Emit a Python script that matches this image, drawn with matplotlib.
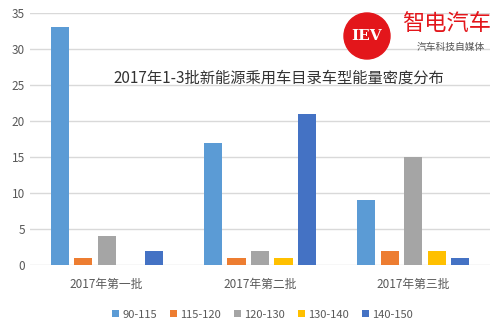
import numpy as np
import matplotlib.pyplot as plt
from matplotlib.patches import Circle

plt.rcParams['font.family'] = ['Noto Sans CJK SC', 'DejaVu Sans']

groups = ['2017年第一批', '2017年第二批', '2017年第三批']
series = ['90-115', '115-120', '120-130', '130-140', '140-150']
values = [
    [33, 17, 9],
    [1, 1, 2],
    [4, 2, 15],
    [0, 1, 2],
    [2, 21, 1],
]
colors = ['#5B9BD5', '#ED7D31', '#A5A5A5', '#FFC000', '#4472C4']

fig = plt.figure(figsize=(5, 3.33), dpi=100)
ax = fig.add_axes([0.06, 0.204, 0.92, 0.757])

x = np.arange(len(groups))
w = 0.118
step = 0.153
for i, s in enumerate(series):
    ax.bar(x + (i - 2) * step, values[i], width=w, color=colors[i], label=s, zorder=3)

ax.set_ylim(0, 35)
ax.set_xlim(-0.5, 2.5)
ax.set_yticks(range(0, 36, 5))
ax.set_xticks(x)
ax.set_xticklabels(groups)
ax.tick_params(axis='both', length=0, colors='#595959', labelsize=8.5)
ax.tick_params(axis='x', pad=9)
ax.grid(axis='y', color='#D9D9D9', linewidth=1, zorder=0)
for sp in ax.spines.values():
    sp.set_visible(False)

ax.text(0.54, 0.74, '2017年1-3批新能源乘用车目录车型能量密度分布', transform=ax.transAxes,
        ha='center', va='center', fontsize=11, color='#333333')

leg = fig.legend(loc='center', bbox_to_anchor=(0.525, 0.055), ncol=5, frameon=False,
                 fontsize=8, handlelength=0.6, handleheight=0.6, handletextpad=0.3,
                 columnspacing=1.2)
for t in leg.get_texts():
    t.set_color('#595959')

# logo
fig.patches.append(Circle((367, 333 - 36), 23, transform=None, color='#E3161B', zorder=5))
fig.text(367 / 500, 1 - 36 / 333, 'IEV', ha='center', va='center', color='white',
         fontsize=11, fontweight='bold', family='DejaVu Serif', zorder=6)
fig.text(447 / 500, 1 - 24 / 333, '智电汽车', ha='center', va='center', color='#E3161B',
         fontsize=16, zorder=6)
fig.text(451 / 500, 1 - 47 / 333, '汽车科技自媒体', ha='center', va='center', color='#555555',
         fontsize=7, zorder=6)

fig.savefig('out.png', dpi=100)
